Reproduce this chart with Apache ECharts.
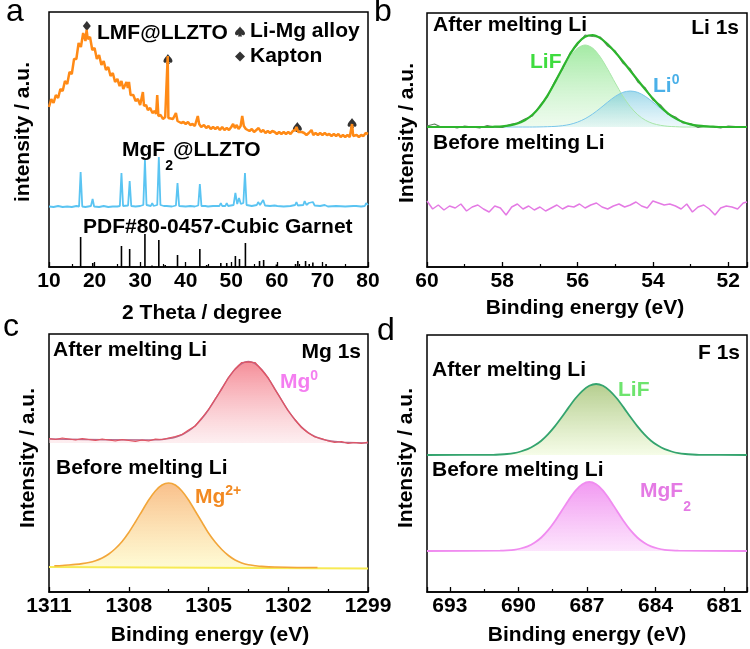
<!DOCTYPE html>
<html><head><meta charset="utf-8">
<script src="https://cdn.jsdelivr.net/npm/echarts@6/dist/echarts.min.js"></script>
<style>html,body{margin:0;padding:0;background:#fff}#c{width:750px;height:649px}</style>
</head><body><div id="c"></div>
<script>
// ---------- DATA (arbitrary intensity units) ----------
// (a) XRD
const xrdLMF = [[10,160],[10.5,168],[11,164],[11.5,172],[12,169],[12.5,178],[13,176],[13.5,186],[14,183],[14.5,195],[15,193],[15.5,208],[16,208],[16.5,224],[17,220],[17.5,234],[18,226],[18.25,237],[18.5,228],[19,230],[19.5,217],[20,219],[20.5,208],[21,212],[21.5,202],[22,206],[22.5,197],[23,200],[23.5,191],[24,194],[24.5,185],[25,188],[25.5,181],[25.9,186],[26.3,178],[26.7,180],[27.0,185],[27.3,179],[27.55,185],[27.9,172],[28.5,172],[29,166],[29.5,168],[30,162],[30.35,164],[30.6,175],[30.85,161],[31.3,162],[31.7,157],[32.2,159],[32.7,154],[33.2,156],[33.5,153],[33.75,172],[34.0,151],[34.5,152],[35,148],[35.5,150],[35.9,148],[36.05,211],[36.2,149],[36.6,147],[37.2,148],[37.6,146],[37.85,154],[38.2,146],[38.6,147],[39,144],[39.5,145],[40,143],[40.5,145],[41,142],[41.5,143],[42,141],[42.35,143],[42.65,151],[42.95,143],[43.4,140],[44,142],[44.5,139],[45,141],[45.5,138],[46,140],[46.5,138],[47,140],[47.5,137],[48,140],[48.5,137],[49,139],[49.5,137],[50,140],[50.4,143],[50.8,139],[51.2,142],[51.6,138],[52.05,141],[52.4,151],[52.75,141],[53.2,138],[53.6,139],[54,136],[54.5,138],[55,135],[55.5,137],[56,139],[56.5,135],[57,137],[57.5,134],[58,136],[58.5,134],[59,136],[59.5,135],[60,133],[60.5,135],[61,133],[61.5,135],[62,133],[62.5,135],[63,133],[63.5,136],[64,137],[64.3,140],[64.7,135],[65,133],[65.5,135],[66,134],[66.5,132],[67,134],[67.6,137],[68,132],[68.5,134],[69,132],[69.5,134],[70,132],[70.5,134],[71,132],[71.5,133],[72,131],[72.5,133],[73,131],[73.5,133],[74,130],[74.5,132],[75,130],[75.5,132],[76,130],[76.3,132],[76.5,143],[76.75,131],[77,130],[77.5,132],[78,130],[78.5,132],[79,131],[79.5,134],[80,133]];
const xrdMgF2 = [[10,60.5],[11,60],[12,61],[13,60],[14,60.5],[15,60],[16,61],[16.6,60.5],[16.94,95],[17.3,60.5],[18,60],[19.2,61],[19.57,68],[19.9,60.5],[21,60],[22,61],[23,60],[24,60.5],[25,60.5],[25.55,61],[25.9,94],[26.25,61],[27.35,61.5],[27.7,86],[28.05,61],[29,60.5],[30,61],[30.7,62],[31.05,107],[31.4,62],[32.35,61],[32.65,64],[32.95,61],[33.75,62],[34.1,110],[34.45,62],[35.2,61],[35.5,62.5],[35.8,61],[37,60.5],[37.85,61.5],[38.2,84],[38.55,61],[40,60.5],[41,61],[42,60.5],[42.75,61.5],[43.1,83],[43.45,61],[44.3,61],[44.6,62],[44.9,60.5],[46,61],[47.4,61],[47.7,64],[48,61],[48.7,61],[49,64],[49.3,61],[50.5,62],[50.9,74],[51.3,63],[51.7,69],[52.1,63],[52.65,64],[53.0,94],[53.35,62],[54.5,61],[55.6,62],[55.9,65],[56.3,62],[57.0,67],[57.4,61.5],[58.5,61],[59.5,61.5],[59.8,62.5],[60.1,61],[61.5,60.5],[63,61],[64,62],[64.3,65],[64.6,61.5],[65.8,62],[66.1,66],[66.5,62],[67.0,64],[67.4,62],[67.9,65],[68.3,61.5],[69.5,61],[70.5,62],[71.2,60.5],[73,61],[75,60.5],[76.8,61],[77.1,63],[77.4,61],[78.5,60.5],[79.3,61],[79.6,64],[80,62]];
const pdfSticks = [[16.94,30],[19.6,4],[25.9,21],[27.7,18],[31.05,33],[32.6,1.5],[34.1,27],[35.5,2],[38.2,12],[43.1,18],[44.6,2],[47.7,4],[49,4],[50.9,11],[51.8,8],[53.1,24],[56.2,6],[57.1,7],[59.9,2.5],[64.1,3],[64.6,6],[66.3,6],[67.1,3],[67.9,4.5],[70.8,3]];
const kaptonMarks = [[18.3,241]];
const liMgMarks = [[36.1,208],[64.5,140],[76.5,144]];
// (b) Li 1s
const li1sRaw = [[60.0,141],[59.8,143],[59.6,139.5],[59.4,140.5],[59.2,139],[59.0,141],[58.8,140],[58.6,139],[58.4,141.5],[58.2,140],[58.0,139.5],[57.8,142.5],[57.6,144],[57.4,148],[57.2,151],[57.0,161.5],[56.8,170.5],[56.6,186],[56.4,198],[56.2,214],[56.0,222.5],[55.8,232],[55.6,230.5],[55.4,230],[55.2,221],[55.0,216],[54.8,204],[54.6,198],[54.4,185],[54.2,179],[54.0,167],[53.8,162],[53.6,153],[53.4,150],[53.2,144],[53.0,143.5],[52.8,139.5],[52.6,141],[52.4,140],[52.2,139],[52.0,141],[51.8,140.5],[51.6,139.5],[51.5,140.5]];
const li1sLiF = [[60,140],[58.4,140],[58.2,140.3],[58.0,140.7],[57.8,141.7],[57.6,143.5],[57.4,146.8],[57.2,152.2],[57.0,160.3],[56.8,171.1],[56.6,184.1],[56.4,197.8],[56.2,210.2],[56.0,218.9],[55.8,222],[55.6,218.9],[55.4,210.2],[55.2,197.8],[55.0,184.1],[54.8,171.1],[54.6,160.3],[54.4,152.2],[54.2,146.8],[54.0,143.5],[53.8,141.7],[53.6,140.7],[53.4,140.3],[53.2,140],[51.5,140]];
const li1sLi0 = [[60,140],[57.2,140],[57.0,140.1],[56.8,140.3],[56.6,140.6],[56.4,141.3],[56.2,142.6],[56.0,144.9],[55.8,148.3],[55.6,153],[55.4,158.7],[55.2,164.9],[55.0,170.6],[54.8,174.6],[54.6,176],[54.4,174.6],[54.2,170.6],[54.0,164.9],[53.8,158.7],[53.6,153],[53.4,148.3],[53.2,144.9],[53.0,142.6],[52.8,141.3],[52.6,140.6],[52.4,140.3],[52.2,140],[51.5,140]];
const li1sEnvelope = [[60,140],[58.4,140],[58.2,140.3],[58.0,140.7],[57.8,141.7],[57.6,143.5],[57.4,146.8],[57.2,152.2],[57.0,160.4],[56.8,171.4],[56.6,184.7],[56.4,199.1],[56.2,212.8],[56.0,223.8],[55.8,230.3],[55.6,231.9],[55.4,228.9],[55.2,222.7],[55.0,214.7],[54.8,205.7],[54.6,196.3],[54.4,186.8],[54.2,177.4],[54.0,168.4],[53.8,160.4],[53.6,153.7],[53.4,148.6],[53.2,144.9],[53.0,142.6],[52.8,141.3],[52.6,140.6],[52.4,140.3],[52.2,140],[51.5,140]];
const li1sBefore = [[60,66],[59.85,58],[59.7,62],[59.55,57],[59.4,61],[59.25,59],[59.1,63],[58.95,56],[58.8,60],[58.65,62],[58.5,58],[58.35,55],[58.2,61],[58.05,59],[57.9,52],[57.75,60],[57.6,63],[57.45,58],[57.3,61],[57.15,57],[57,60],[56.85,56],[56.7,59],[56.55,62],[56.4,58],[56.25,61],[56.1,60],[55.95,63],[55.8,59],[55.65,62],[55.5,64],[55.35,60],[55.2,58],[55.05,61],[54.9,63],[54.75,60],[54.6,62],[54.45,65],[54.3,61],[54.15,59],[54,66],[53.85,64],[53.7,62],[53.55,63],[53.4,61],[53.25,58],[53.1,63],[52.95,55],[52.8,60],[52.65,62],[52.5,58],[52.35,52],[52.2,59],[52.05,61],[51.9,60],[51.75,58],[51.6,64],[51.5,65]];
// (c) Mg 1s
const mg1sAfterFit = [[1311,153],[1307.25,152],[1307,152.2],[1306.75,152.6],[1306.5,153.4],[1306.25,154.8],[1306,157.2],[1305.75,161],[1305.5,166.3],[1305.25,173.4],[1305,182.3],[1304.75,192.6],[1304.5,203.5],[1304.25,214.1],[1304,222.8],[1303.75,228.5],[1303.5,230.5],[1303.25,228.3],[1303,222.4],[1302.75,213.6],[1302.5,202.9],[1302.25,191.8],[1302,181.3],[1301.75,172.2],[1301.5,164.9],[1301.25,159.5],[1301,155.6],[1300.75,153],[1300.5,151.4],[1300.25,150.4],[1300,149.8],[1299.75,149.5],[1299,149]];
const mg1sAfterRaw = [[1311,153.5],[1310.75,152.5],[1310.5,154],[1310.25,153],[1310,152],[1309.75,153.5],[1309.5,152.5],[1309.25,151.5],[1309,153],[1308.75,152],[1308.5,151],[1308.25,152.5],[1308,151.5],[1307.75,150.5],[1307.5,152],[1307.25,151],[1307,153],[1306.75,152.5],[1306.5,154],[1306.25,155.5],[1306,157.5],[1305.75,162],[1305.5,166],[1305.25,174],[1305,182.5],[1304.75,193],[1304.5,203],[1304.25,214.5],[1304,223],[1303.75,229.5],[1303.5,230],[1303.25,229.5],[1303,222],[1302.75,214],[1302.5,202.5],[1302.25,192],[1302,181],[1301.75,172.5],[1301.5,164.5],[1301.25,159],[1301,155],[1300.75,153.5],[1300.5,151],[1300.25,149.5],[1300,150.5],[1299.75,148.5],[1299.5,149.5],[1299.25,148.5],[1299,150]];
const mg1sBefore = [[1310.8,26.2],[1310.5,26.5],[1310.25,27],[1310,27.6],[1309.75,28.4],[1309.5,29.5],[1309.25,31.3],[1309,34],[1308.75,38],[1308.5,43.5],[1308.25,50.5],[1308,59.5],[1307.75,70],[1307.5,81],[1307.25,92],[1307,101],[1306.75,107],[1306.5,109],[1306.25,107],[1306,101],[1305.75,92],[1305.5,81],[1305.25,70],[1305,59],[1304.75,50],[1304.5,42.5],[1304.25,36.5],[1304,32],[1303.75,29],[1303.5,27.2],[1303.25,26.3],[1303,25.6],[1302.5,25],[1301,24.5],[1300.9,24.5]];
const mg1sBeforeBg = [[1311,25],[1299,23.5]];
// (d) F 1s
const f1sAfter = [[694,137],[691.1,137.2],[690.8,137.5],[690.5,138],[690.2,138.9],[689.9,140.5],[689.6,142.8],[689.3,146.4],[689.0,151.3],[688.7,157.9],[688.4,165.9],[688.1,175],[687.8,184.6],[687.5,193.7],[687.2,201.2],[686.9,206.2],[686.6,208],[686.3,206.2],[686.0,201.2],[685.7,193.7],[685.4,184.6],[685.1,175],[684.8,165.9],[684.5,157.9],[684.2,151.3],[683.9,146.4],[683.6,142.8],[683.3,140.5],[683.0,138.9],[682.7,138],[682.4,137.5],[682.1,137.2],[680,137]];
const f1sBefore = [[694,41],[690.8,41.3],[690.5,41.6],[690.2,42.2],[689.9,43.5],[689.6,45.6],[689.3,49.2],[689.0,54.5],[688.7,61.8],[688.4,71],[688.1,81.5],[687.8,92.1],[687.5,101.4],[687.2,107.7],[686.9,110],[686.6,107.7],[686.3,101.4],[686.0,92.1],[685.7,81.5],[685.4,71],[685.1,61.8],[684.8,54.5],[684.5,49.2],[684.2,45.6],[683.9,43.5],[683.6,42.2],[683.3,41.6],[683.0,41.3],[680,41]];

// ---------- CHART ----------
const FF = '"Liberation Sans", Arial, Helvetica, sans-serif';
const SPADE = 'path://M5 0 C6.5 2.5 10 4.5 10 7 C10 9 7.5 9.2 6.2 8 L7.2 10 L2.8 10 L3.8 8 C2.5 9.2 0 9 0 7 C0 4.5 3.5 2.5 5 0 Z';
const chart = echarts.init(document.getElementById('c'));
const G = (x0,y0,w,h)=>({left:x0,top:y0,width:w,height:h,show:true,borderColor:'#000',borderWidth:1.5,backgroundColor:'transparent'});
const lbl = (fmt)=>({color:'#000',fontSize:21,fontWeight:'bold',fontFamily:FF,margin:4,formatter:fmt});
function xAx(gi,min,max,extra){
  return Object.assign({type:'value',gridIndex:gi,min:min,max:max,
    axisLine:{show:true,onZero:false,lineStyle:{color:'#000',width:1.5}},
    axisTick:{show:true,inside:true,length:5,lineStyle:{color:'#000',width:1.3}},
    minorTick:{show:true,splitNumber:2,length:3,lineStyle:{color:'#000',width:1.2}},
    splitLine:{show:false},
    axisLabel:lbl(v=>String(v))},extra);
}
const yAx=(gi,h)=>({type:'value',gridIndex:gi,min:0,max:h,show:false});
const grad=(a,b)=>new echarts.graphic.LinearGradient(0,0,0,1,[{offset:0,color:a},{offset:1,color:b}]);
const L=(xi,data,color,w,extra)=>Object.assign({type:'line',xAxisIndex:xi,yAxisIndex:xi,data:data,symbol:'none',silent:true,animation:false,lineStyle:{color:color,width:w}},extra||{});

function T(x,y,text,o){
  o=o||{};
  return {type:'text',x:x,y:y,rotation:o.rot||0,z:100,style:{text:text,fontSize:o.size||21,fontWeight:o.weight||'bold',fontFamily:FF,fill:o.color||'#000',align:o.align||'left',verticalAlign:'middle',lineHeight:o.lh,rich:o.rich}};
}
function supRich(color){return {sup:{fontSize:14,fontWeight:'bold',fontFamily:FF,fill:color,lineHeight:14,verticalAlign:'top'}};}
function subRich(color){return {sub:{fontSize:14,fontWeight:'bold',fontFamily:FF,fill:color,lineHeight:14,verticalAlign:'bottom'}};}

const option={
  animation:false,
  grid:[G(49,12,319,255),G(427,13,321,254),G(49,334,319,258),G(427,335,320,257)],
  xAxis:[
    xAx(0,10,80,{interval:10}),
    xAx(1,51.5,60,{inverse:true,splitNumber:4,axisLabel:lbl(v=>(Math.abs(v%2)<1e-6?String(v):''))}),
    xAx(2,1299,1311,{inverse:true,interval:3}),
    xAx(3,680,694,{inverse:true,splitNumber:4,axisLabel:lbl(v=>(Math.abs(v%3)<1e-6?String(v):''))})
  ],
  yAxis:[yAx(0,255),yAx(1,254),yAx(2,258),yAx(3,257)],
  legend:{data:['Li-Mg alloy','Kapton'],left:235,top:21,orient:'vertical',itemGap:4,itemWidth:10,itemHeight:10,selectedMode:false,padding:0,
    textStyle:{fontSize:21,fontWeight:'bold',color:'#000',fontFamily:FF}},
  series:[
    {type:'bar',xAxisIndex:0,yAxisIndex:0,data:pdfSticks,barWidth:1.6,itemStyle:{color:'#000'},silent:true,animation:false},
    L(0,xrdMgF2,'#5ac4f2',1.8),
    L(0,xrdLMF,'#ff8a16',2.5),
    {type:'scatter',name:'Kapton',xAxisIndex:0,yAxisIndex:0,data:kaptonMarks,symbol:'diamond',symbolSize:[8,10],itemStyle:{color:'#000'},silent:true,animation:false},
    {type:'scatter',name:'Li-Mg alloy',xAxisIndex:0,yAxisIndex:0,data:liMgMarks,symbol:SPADE,symbolSize:[9,10],itemStyle:{color:'#000'},silent:true,animation:false},
    // b
    L(1,li1sLiF,'#a8e6a8',1,{smooth:0.3,areaStyle:{origin:140,color:grad('rgba(110,222,110,0.9)','rgba(215,246,215,0.6)')}}),
    L(1,li1sLi0,'#79c6ea',1,{smooth:0.3,areaStyle:{origin:140,color:grad('rgba(80,185,215,0.75)','rgba(215,240,248,0.6)')}}),
    L(1,li1sRaw,'#5f7f5f',1.2),
    L(1,li1sEnvelope,'#2db52d',2.2,{smooth:0.3}),
    L(1,li1sBefore,'#e47ae4',1.5),
    // c
    L(2,mg1sAfterFit,'#b86a8c',1.5,{smooth:0.3,areaStyle:{origin:149,color:grad('rgba(240,84,100,0.95)','rgba(252,222,226,0.7)')}}),
    L(2,mg1sAfterRaw,'#e25462',1.2),
    L(2,mg1sBeforeBg,'#f7ea55',2),
    L(2,mg1sBefore,'#f2a63a',1.6,{smooth:0.3,areaStyle:{origin:24,color:grad('rgba(246,160,80,0.95)','rgba(254,248,180,0.8)')}}),
    // d
    L(3,f1sAfter,'#34a46e',1.8,{smooth:0.3,areaStyle:{origin:137,color:grad('rgba(150,185,95,1)','rgba(240,251,218,0.9)')}}),
    L(3,f1sBefore,'#f08cf0',1.8,{smooth:0.3,areaStyle:{origin:41,color:grad('rgba(236,110,236,1)','rgba(251,212,251,0.9)')}})
  ],
  graphic:[
    // panel letters
    T(6,12,'a',{size:32,weight:'normal'}),
    T(374,12,'b',{size:32,weight:'normal'}),
    T(3,327,'c',{size:32,weight:'normal'}),
    T(377,331,'d',{size:32,weight:'normal'}),
    // (a)
    T(97,33,'LMF@LLZTO'),
    T(122,150,'MgF{sub|2}@LLZTO',{lh:47,rich:subRich('#000')}),
    T(83,227,'PDF#80-0457-Cubic Garnet'),
    T(23,132,'intensity / a.u.',{rot:Math.PI/2,align:'center'}),
    T(202,313,'2 Theta / degree',{align:'center'}),
    // (b)
    T(433,25,'After melting Li'),
    T(739,28,'Li 1s',{align:'right'}),
    T(530,62,'LiF',{color:'#3fdc3f'}),
    T(653,86,'Li{sup|0}',{color:'#4ab0e8',lh:26,rich:supRich('#4ab0e8')}),
    T(433,143,'Before melting Li'),
    T(407,133,'Intensity / a.u.',{rot:Math.PI/2,align:'center'}),
    T(585,308,'Binding energy (eV)',{align:'center'}),
    // (c)
    T(53,350,'After melting Li'),
    T(361,352,'Mg 1s',{align:'right'}),
    T(280,382,'Mg{sup|0}',{color:'#f47ef0',lh:26,rich:supRich('#f47ef0')}),
    T(56,468,'Before melting Li'),
    T(195,497,'Mg{sup|2+}',{color:'#f28a22',lh:26,rich:supRich('#f28a22')}),
    T(28,458,'Intensity / a.u.',{rot:Math.PI/2,align:'center'}),
    T(210,635,'Binding energy (eV)',{align:'center'}),
    // (d)
    T(740,353,'F 1s',{align:'right'}),
    T(432,370,'After melting Li'),
    T(618,390,'LiF',{color:'#6ee46e'}),
    T(432,470,'Before melting Li'),
    T(640,491,'MgF{sub|2}',{color:'#e47ae4',lh:47,rich:subRich('#e47ae4')}),
    T(406,458,'Intensity / a.u.',{rot:Math.PI/2,align:'center'}),
    T(587,635,'Binding energy (eV)',{align:'center'})
  ]
};
chart.setOption(option);
</script></body></html>
